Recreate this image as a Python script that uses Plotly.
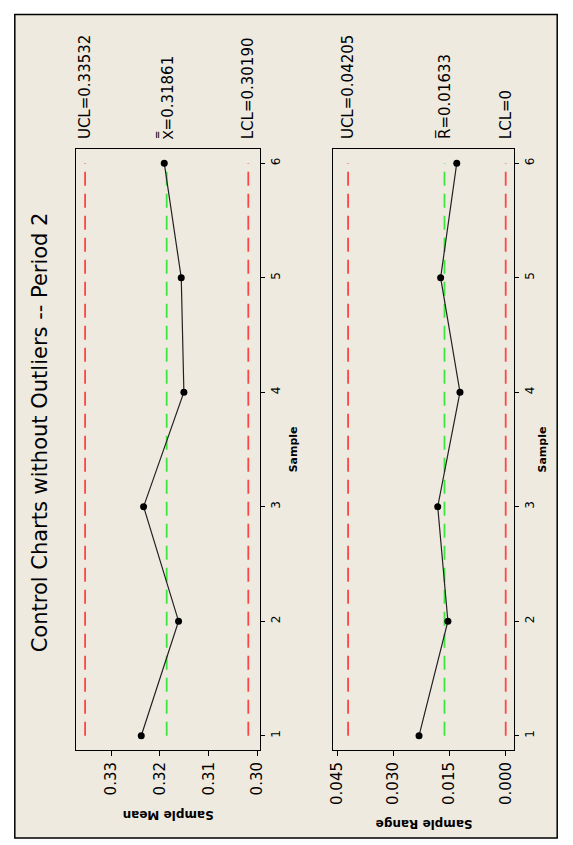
import plotly.graph_objects as go

W, H = 573, 845

samples = [1, 2, 3, 4, 5, 6]
sample_means = [0.32382, 0.31618, 0.32334, 0.31509, 0.31563, 0.31911]
sample_ranges = [0.02312, 0.01542, 0.01814, 0.01220, 0.01736, 0.01306]

xbar_ucl, xbar_center, xbar_lcl = 0.33532, 0.31861, 0.30190
r_ucl, r_center, r_lcl = 0.04205, 0.01633, 0.0

mean_ticks = [0.30, 0.31, 0.32, 0.33]
mean_ticktext = ["0.30", "0.31", "0.32", "0.33"]
range_ticks = [0.0, 0.015, 0.030, 0.045]
range_ticktext = ["0.000", "0.015", "0.030", "0.045"]

title_text = "Control Charts without Outliers -- Period 2"
xbar_labels = ["UCL=0.33532",
               "<span style='font-family:Noto Sans'>X\u033F</span>=0.31861",
               "LCL=0.30190"]
r_labels = ["UCL=0.04205", "R\u0305=0.01633", "LCL=0"]

FONT = "DejaVu Sans"
RED = "#FF4545"
GREEN = "#3CE63C"
BEIGE = "#EEEAE0"


def px(x):
    return x / W


def py(y):
    return 1 - y / H


fig = go.Figure()

# limit lines
for xa, ya, vals in (("x", "y", (xbar_ucl, xbar_center, xbar_lcl)),
                     ("x2", "y2", (r_ucl, r_center, r_lcl))):
    for v, col in zip(vals, (RED, GREEN, RED)):
        fig.add_trace(go.Scatter(
            x=[v, v], y=[samples[0], samples[-1]], mode="lines",
            line=dict(color=col, width=1.8, dash="14px,8px"),
            xaxis=xa, yaxis=ya, showlegend=False, hoverinfo="skip"))

fig.add_trace(go.Scatter(
    x=sample_means, y=samples, mode="lines+markers",
    line=dict(color="#222222", width=1.2),
    marker=dict(color="black", size=7),
    xaxis="x", yaxis="y", showlegend=False))
fig.add_trace(go.Scatter(
    x=sample_ranges, y=samples, mode="lines+markers",
    line=dict(color="#222222", width=1.2),
    marker=dict(color="black", size=7),
    xaxis="x2", yaxis="y2", showlegend=False))

ydom = [py(750), py(148.5)]
common_x = dict(showline=True, mirror=True, linecolor="black", linewidth=1,
                ticks="outside", ticklen=5, tickcolor="black", tickangle=-90,
                tickfont=dict(family=FONT, size=15, color="black"),
                showgrid=False, zeroline=False)
common_y = dict(showline=True, mirror=True, linecolor="black", linewidth=1,
                ticks="outside", ticklen=4, tickcolor="black", tickangle=-90,
                side="right", tickvals=samples, ticktext=[str(s) for s in samples],
                tickfont=dict(family=FONT, size=12, color="black"),
                showgrid=False, zeroline=False, range=[0.875, 6.128], domain=ydom)

fig.update_layout(
    width=W, height=H,
    margin=dict(l=0, r=0, t=0, b=0),
    paper_bgcolor="white",
    plot_bgcolor="white",
    xaxis=dict(domain=[px(72.3), px(260.5)], range=[0.3372, 0.2994],
               tickvals=mean_ticks, ticktext=mean_ticktext, anchor="y", **common_x),
    yaxis=dict(anchor="x", **common_y),
    xaxis2=dict(domain=[px(334.7), px(519.3)], range=[0.0460, -0.0023],
                tickvals=range_ticks, ticktext=range_ticktext, anchor="y2", **common_x),
    yaxis2=dict(anchor="x2", **common_y),
    shapes=[dict(type="rect", xref="paper", yref="paper",
                 x0=px(10), x1=px(563), y0=py(838), y1=py(14.5),
                 fillcolor=BEIGE, line=dict(color="black", width=1.5),
                 layer="below")],
)

ann = []
ann.append(dict(text=title_text, x=px(36), y=py(432), xref="paper", yref="paper",
                xanchor="center", yanchor="middle",
                showarrow=False, textangle=-90,
                font=dict(family=FONT, size=21, color="black")))
for xr, vals, labels in (("x", (xbar_ucl, xbar_center, xbar_lcl), xbar_labels),
                         ("x2", (r_ucl, r_center, r_lcl), r_labels)):
    for v, t in zip(vals, labels):
        ann.append(dict(text=t, x=v, xref=xr, y=py(141), yref="paper",
                        yanchor="bottom", xanchor="center", showarrow=False,
                        textangle=-90, font=dict(family=FONT, size=15, color="black")))
ann.append(dict(text="<b>Sample Mean</b>", x=px(166), y=py(815), xref="paper", yref="paper",
                xanchor="center", yanchor="middle",
                showarrow=False, textangle=180, font=dict(family=FONT, size=12, color="black")))
ann.append(dict(text="<b>Sample Range</b>", x=px(427), y=py(824), xref="paper", yref="paper",
                xanchor="center", yanchor="middle",
                showarrow=False, textangle=180, font=dict(family=FONT, size=12, color="black")))
for xx in (294, 548):
    ann.append(dict(text="<b>Sample</b>", x=px(xx), y=py(449), xref="paper", yref="paper",
                    xanchor="center", yanchor="middle",
                    showarrow=False, textangle=-90, font=dict(family=FONT, size=11, color="black")))
fig.update_layout(annotations=ann)

fig.write_html("out.html", config={"displayModeBar": False},
               post_script="document.body.style.margin='0px';document.body.style.overflow='hidden';")
